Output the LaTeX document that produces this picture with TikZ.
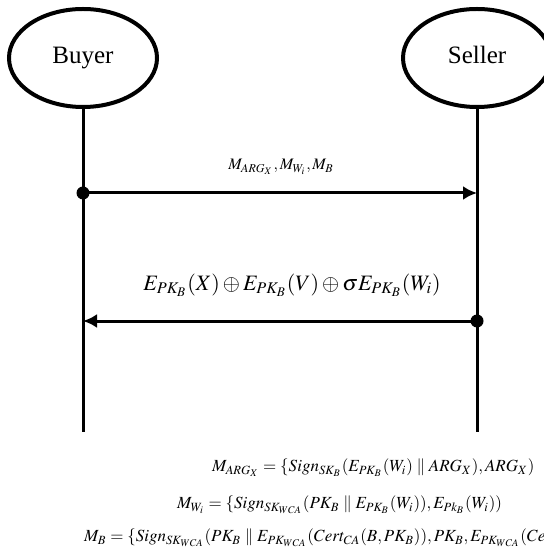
\documentclass[tikz,border=0pt]{standalone}
\usepackage{mathptmx}
\usepackage{fontspec}
\setmainfont{Liberation Serif}
\usetikzlibrary{arrows.meta,shapes.geometric,positioning}

\begin{document}
\begin{tikzpicture}[x=0.5pt,y=-0.5pt,
  party/.style={ellipse,draw,line width=2pt,minimum width=74pt,minimum height=49pt,text height=1.6ex,text depth=0.3ex,font=\fontsize{12.5}{14}\selectfont},
  lifeline/.style={line width=1.5pt},
  msg/.style={line width=1.5pt,-{Latex[length=7pt,width=7pt]}},
  dot/.style={circle,fill,inner sep=0pt,minimum size=6.5pt}]
\useasboundingbox (0,0) rectangle (544,560);
\clip (0,0) rectangle (544,560);

% Parties and lifelines
\node[party] (buyer) at (83,58) {Buyer};
\node[party] (seller) at (477,58) {Seller};
\coordinate (buyerEnd) at (buyer.south |- 0,432);
\coordinate (sellerEnd) at (seller.south |- 0,432);
\draw[lifeline] (buyer.south) -- (buyerEnd);
\draw[lifeline] (seller.south) -- (sellerEnd);

% Buyer to Seller
\node[dot] (d1) at (buyer.south |- 0,193) {};
\coordinate (t1) at (seller.south |- d1);
\draw[msg] (d1.center) -- (t1);
\node[font=\fontsize{8}{10}\selectfont] (m1) at (281,167) {$M_{ARG_X}, M_{W_i}, M_B$};

% Seller to Buyer
\node[dot] (d2) at (seller.south |- 0,321) {};
\coordinate (t2) at (buyer.south |- d2);
\draw[msg] (d2.center) -- (t2);
\node[font=\fontsize{11}{13}\selectfont] (m2) at (292,285) {$E_{PK_B}(X)\oplus E_{PK_B}(V)\oplus \sigma E_{PK_B}(W_i)$};

% Message contents
\node[font=\fontsize{8.5}{10}\selectfont,anchor=west] (eq1) at (205,468) {$M_{ARG_X}=\{Sign_{SK_B}(E_{PK_B}(W_i)\parallel ARG_X), ARG_X)$};
\node[font=\fontsize{8.5}{10}\selectfont,anchor=west] (eq2) at (170,505) {$M_{W_i}=\{Sign_{SK_{WCA}}(PK_B\parallel E_{PK_B}(W_i)), E_{Pk_B}(W_i))$};
\node[font=\fontsize{8.5}{10}\selectfont,anchor=west] (eq3) at (77,538) {$M_B=\{Sign_{SK_{WCA}}(PK_B\parallel E_{PK_{WCA}}(Cert_{CA}(B,PK_B)),PK_B,E_{PK_{WCA}}(Cert_{CA}(B,PK_B)))$};
\end{tikzpicture}
\end{document}
